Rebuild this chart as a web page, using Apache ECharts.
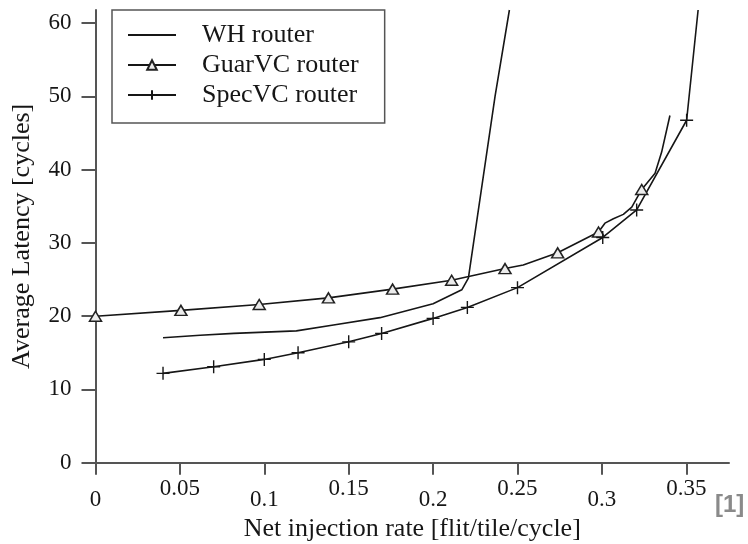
<!DOCTYPE html>
<html>
<head>
<meta charset="utf-8">
<script src="https://cdn.jsdelivr.net/npm/echarts@6/dist/echarts.min.js"></script>
<style>
  html, body { margin: 0; padding: 0; background: #fff; }
  #chart { width: 748px; height: 544px; }
</style>
</head>
<body>
<div id="chart"></div>
<script>
// ---- Data ----
const seriesNames = ['WH router', 'GuarVC router', 'SpecVC router'];

// WH router (no markers)
const whX = [0.040, 0.062, 0.082, 0.119, 0.141, 0.1685, 0.200, 0.217, 0.2209, 0.2367, 0.2452];
const whY = [17.05, 17.4, 17.65, 18.0, 18.8, 19.8, 21.7, 23.6, 25.2, 50.0, 61.8];

// GuarVC router (triangle markers; marked[i] = 1 where a triangle is drawn)
const guarX = [0.000, 0.0506, 0.097, 0.138, 0.176, 0.211, 0.2426, 0.2534, 0.2738, 0.298, 0.3018, 0.3068, 0.3127, 0.3177, 0.3236, 0.3315, 0.3354, 0.3403];
const guarY = [20.0, 20.8, 21.6, 22.5, 23.7, 24.9, 26.5, 27.0, 28.65, 31.5, 32.7, 33.3, 33.9, 34.9, 37.3, 39.5, 42.4, 47.4];
const guarMarked = [1, 1, 1, 1, 1, 1, 1, 0, 1, 1, 0, 0, 0, 0, 1, 0, 0, 0];

// SpecVC router (plus markers)
const specX = [0.040, 0.070, 0.100, 0.120, 0.150, 0.1695, 0.200, 0.2203, 0.250, 0.3005, 0.3206, 0.3502, 0.357];
const specY = [12.2, 13.1, 14.1, 15.0, 16.5, 17.65, 19.7, 21.2, 23.9, 30.75, 34.5, 46.75, 61.8];
const specMarked = [1, 1, 1, 1, 1, 1, 1, 1, 1, 1, 1, 1, 0];

// Axis ticks / labels
const xTicks = [0, 0.05, 0.1, 0.15, 0.2, 0.25, 0.3, 0.35];
const xTickLabels = ['0', '0.05', '0.1', '0.15', '0.2', '0.25', '0.3', '0.35'];
const yTicks = [0, 10, 20, 30, 40, 50, 60];
const yTickLabels = ['0', '10', '20', '30', '40', '50', '60'];

const xTitle = 'Net injection rate [flit/tile/cycle]';
const yTitle = 'Average Latency [cycles]';
const sourceTag = '[1]';

// ---- Build chart ----
const SERIF = 'Liberation Serif';
const INK = '#161616';
const AXIS = '#555';
const plusPath = 'path://M0,6L12,6M6,0L6,12';

function pts(xs, ys, marked) {
  return xs.map((x, i) => {
    const d = { value: [x, ys[i]] };
    if (marked && !marked[i]) d.symbol = 'none';
    return d;
  });
}

const chart = echarts.init(document.getElementById('chart'), null, { renderer: 'canvas' });

chart.setOption({
  animation: false,
  backgroundColor: '#fff',
  grid: { left: 95.5, right: 19, top: 10, bottom: 81.3, containLabel: false, outerBoundsMode: 'none' },
  legend: {
    orient: 'vertical',
    left: 112, top: 10,
    padding: [12, 26, 15, 15],
    borderColor: AXIS, borderWidth: 1.5,
    itemWidth: 48, itemHeight: 12, itemGap: 4,
    textStyle: { fontFamily: SERIF, fontSize: 26, color: INK, lineHeight: 24, padding: [0, 0, 0, 21] },
    data: [
      { name: seriesNames[0], itemStyle: { opacity: 0 } },
      { name: seriesNames[1] },
      { name: seriesNames[2] }
    ]
  },
  xAxis: {
    type: 'value', min: 0, max: 0.3753,
    splitLine: { show: false },
    axisLine: { lineStyle: { color: AXIS, width: 2 } },
    axisTick: { show: true, length: 12, customValues: xTicks, lineStyle: { color: AXIS, width: 2 } },
    axisLabel: {
      customValues: xTicks,
      margin: 15,
      formatter: function (v) {
        const i = Math.round(v / 0.05);
        const t = xTickLabels[i] !== undefined ? xTickLabels[i] : '';
        return (i % 2 ? '{hi|' : '{lo|') + t + '}';
      },
      rich: {
        hi: { fontFamily: SERIF, fontSize: 23, color: INK },
        lo: { fontFamily: SERIF, fontSize: 23, color: INK, padding: [11, 0, 0, 0] }
      }
    },
    name: xTitle, nameLocation: 'middle', nameGap: 53,
    nameTextStyle: { fontFamily: SERIF, fontSize: 26, color: INK }
  },
  yAxis: {
    type: 'value', min: 0, max: 61.8,
    splitLine: { show: false },
    axisLine: { lineStyle: { color: AXIS, width: 2 } },
    axisTick: { show: true, length: 14, customValues: yTicks, lineStyle: { color: AXIS, width: 2 } },
    axisLabel: {
      customValues: yTicks, margin: 24,
      formatter: function (v) { const i = yTicks.indexOf(v); return i >= 0 ? yTickLabels[i] : ''; },
      fontFamily: SERIF, fontSize: 23, color: INK
    },
    name: yTitle, nameLocation: 'middle', nameGap: 60,
    nameTextStyle: { fontFamily: SERIF, fontSize: 26, color: INK }
  },
  series: [
    {
      name: seriesNames[0], type: 'line', data: pts(whX, whY),
      symbol: 'none', lineStyle: { color: INK, width: 1.6 }, itemStyle: { color: INK }
    },
    {
      name: seriesNames[1], type: 'line', data: pts(guarX, guarY, guarMarked),
      symbol: 'triangle', symbolSize: [12, 10], showSymbol: true,
      lineStyle: { color: INK, width: 1.6 },
      itemStyle: { color: '#ececec', borderColor: '#222', borderWidth: 1.5 }
    },
    {
      name: seriesNames[2], type: 'line', data: pts(specX, specY, specMarked),
      symbol: plusPath, symbolSize: 13, showSymbol: true,
      lineStyle: { color: INK, width: 1.6 },
      itemStyle: { color: INK, borderColor: INK, borderWidth: 1.4 }
    }
  ],
  graphic: [{
    type: 'text', left: 715, top: 493,
    style: { text: sourceTag, fontFamily: 'Liberation Sans', fontWeight: 'bold', fontSize: 24, fill: '#8a8a8a' }
  }]
});
</script>
</body>
</html>
